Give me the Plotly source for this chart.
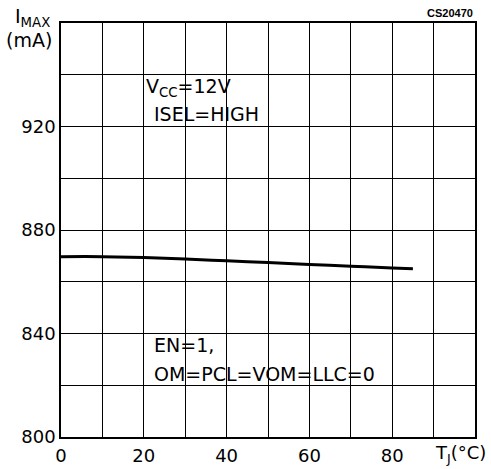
import plotly.graph_objects as go

# Data
tj = [0, 10, 20, 30, 40, 50, 60, 70, 80, 85]
imax = [869.7, 869.7, 869.4, 868.8, 868.1, 867.4, 866.7, 866.0, 865.3, 865.0]

x_ticks = list(range(0, 101, 10))
x_labels = ["0", "", "20", "", "40", "", "60", "", "80", "", ""]
y_ticks = list(range(800, 961, 20))
y_labels = ["800", "", "840", "", "880", "", "920", "", ""]

FONT = "DejaVu Sans"

fig = go.Figure()
fig.add_trace(go.Scatter(x=tj, y=imax, mode="lines",
                         line=dict(color="black", width=3, shape="spline"),
                         showlegend=False, hoverinfo="skip"))

axis_common = dict(showgrid=True, gridcolor="black", gridwidth=1,
                   showline=True, linecolor="black", linewidth=1.5, mirror=True,
                   zeroline=False, ticks="", automargin=False,
                   tickfont=dict(family=FONT, size=18, color="black"))

fig.update_xaxes(range=[0, 100], tickvals=x_ticks, ticktext=x_labels, ticklabelstandoff=2, **axis_common)
fig.update_yaxes(range=[800, 960], tickvals=y_ticks, ticktext=y_labels, **axis_common)

ann_font = dict(family=FONT, size=19, color="black")
annotations = [
    dict(x=20, y=935, text="V<sub>CC</sub>=12V", xanchor="left", yanchor="middle", showarrow=False, font=ann_font),
    dict(x=22, y=925, text="ISEL=HIGH", xanchor="left", yanchor="middle", showarrow=False, font=ann_font),
    dict(x=22, y=835.6, text="EN=1,", xanchor="left", yanchor="middle", showarrow=False, font=ann_font),
    dict(x=22, y=824.3, text="OM=PCL=VOM=LLC=0", xanchor="left", yanchor="middle", showarrow=False, font=ann_font),
    dict(x=0.964, xref="paper", y=-0.041, yref="paper", text="T<sub>J</sub>(°C)", xanchor="center", yanchor="middle",
         showarrow=False, font=dict(family=FONT, size=18, color="black")),
    dict(x=-0.070, xref="paper", y=1.013, yref="paper", text="I<sub>MAX</sub>", xanchor="center", yanchor="middle",
         showarrow=False, font=ann_font),
    dict(x=-0.0785, xref="paper", y=0.958, yref="paper", text="(mA)", xanchor="center", yanchor="middle",
         showarrow=False, font=ann_font),
    dict(x=1.0, xref="paper", y=1.023, yref="paper", text="<b>CS20470</b>", xanchor="right", yanchor="middle",
         showarrow=False, font=dict(family="Liberation Sans", size=11, color="black")),
]

fig.update_layout(width=491, height=469, margin=dict(l=61, r=16, t=23, b=32),
                  paper_bgcolor="white", plot_bgcolor="white", annotations=annotations)

fig.write_html("out.html")
